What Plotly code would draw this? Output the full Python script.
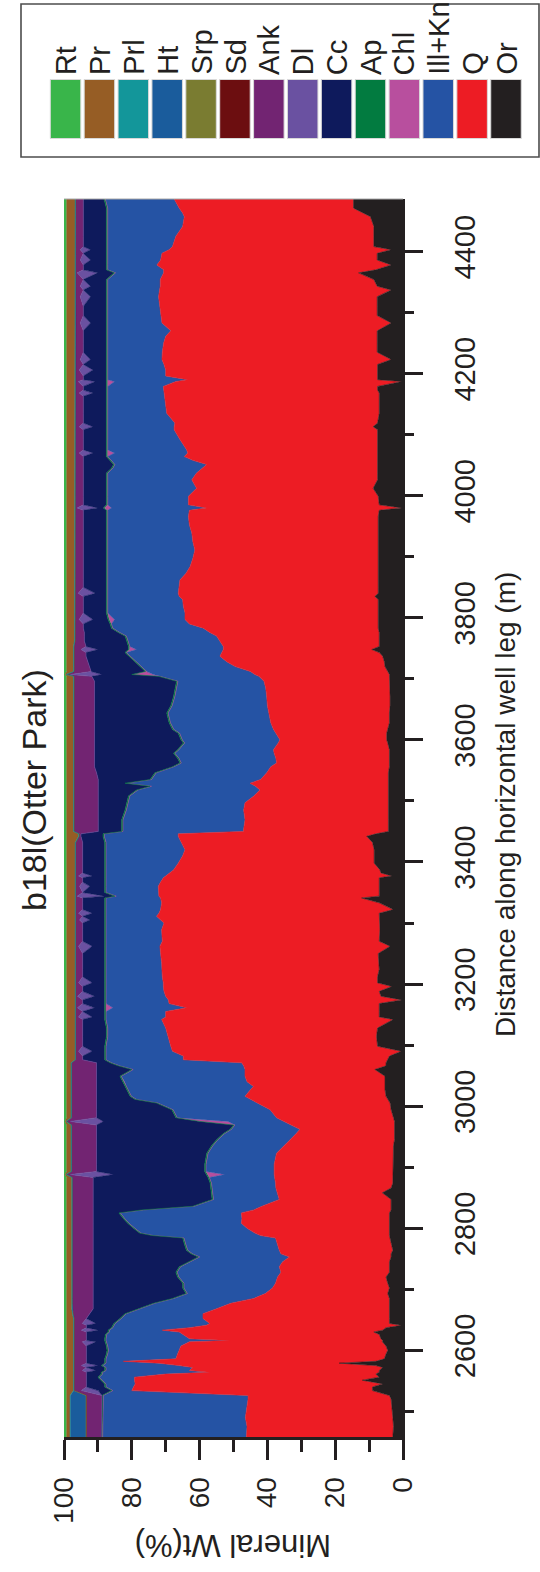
import plotly.graph_objects as go

# ---------------- data ----------------
distance = [
    2458, 2475, 2490, 2505, 2520, 2526,
    2534, 2540, 2545, 2551, 2556, 2561, 2564, 2567, 2572, 2575, 2579, 2582, 2586, 2594,
    2600, 2607, 2614, 2616, 2619, 2626, 2630, 2633, 2637, 2641, 2644, 2652, 2660,
    2668, 2677, 2685, 2693, 2702, 2710, 2720, 2728, 2737, 2745, 2753, 2758, 2764, 2774,
    2784, 2788, 2792, 2800, 2808, 2816, 2825, 2830, 2836, 2847, 2858, 2866, 2874, 2883, 2888,
    2893, 2905, 2923, 2935, 2945, 2955, 2962, 2969, 2975, 2981, 2994, 3005, 3011, 3016,
    3027, 3032, 3040, 3049, 3060, 3066, 3071,
    3076, 3082, 3090, 3098, 3114, 3128, 3142, 3146, 3155, 3161, 3168, 3174, 3180, 3188,
    3196, 3202, 3212, 3224, 3235, 3250, 3262, 3270, 3289, 3300, 3305, 3311, 3316, 3322,
    3333, 3341, 3344, 3350, 3360, 3367, 3374, 3377, 3382, 3387, 3398, 3410, 3420, 3432,
    3442, 3446,
    3450, 3469, 3485, 3497, 3508, 3518, 3524, 3529, 3535, 3546,
    3556, 3562, 3570, 3578, 3584, 3595, 3600, 3611, 3617, 3628, 3644, 3656, 3671, 3685,
    3696, 3704, 3707, 3712, 3720, 3728, 3737, 3743, 3748, 3753, 3762, 3770, 3776,
    3783, 3790, 3797, 3808, 3819, 3830, 3835, 3840, 3850, 3862, 3873, 3884, 3897, 3911,
    3925, 3939, 3952, 3966, 3976, 3980, 3985, 3999, 4012, 4026, 4037, 4045, 4051, 4058,
    4064, 4070, 4075, 4092, 4108, 4113, 4119, 4135, 4150, 4163, 4168, 4173, 4179, 4187,
    4190, 4196, 4206, 4215, 4223, 4235, 4250, 4261, 4270, 4283, 4295, 4310, 4326, 4337,
    4343, 4354, 4365, 4370, 4378, 4386, 4397, 4403, 4408, 4425, 4441, 4457, 4463, 4471, 4486,
]

Or_wt = [
    3, 2.8, 3, 3.2, 3.5, 4,
    9, 9, 6, 12, 7, 8, 7, 7, 6, 8, 18.8, 8, 5.5, 5, 4.5, 5, 6.1, 6, 6.5, 7, 8.6, 6, 5, 0.5, 4, 4, 4,
    4, 4.2, 4, 4.5, 4, 4.5, 5, 4, 4, 4, 3.5, 3.5, 3, 3.5, 4, 4, 4, 4, 4, 4, 4, 3.5, 3.5, 3.5, 6.1, 3.5, 3, 3, 3,
    3, 3, 3, 2.8, 2.5, 2.5, 2.5, 2.5, 2.5, 2.8, 3.5, 3.8, 4.5, 5, 5.3, 5.3, 5.3, 5.3, 8.3, 5, 5,
    4.5, 4, 0.5, 7.5, 7.8, 7.5, 2.9, 7, 7, 7, 7, 0.4, 6.5, 7, 3.3, 7.5, 7.5, 7, 7.2, 7.3,
    3.8, 7, 6.8, 6.8, 6.8, 6.8, 7, 2.9, 7, 12.2, 7, 7, 7, 7, 7, 3.3, 6.5, 6.8, 8.5, 8.5, 8.5, 9, 10.7, 8,
    4.3, 4.3, 4.3, 4.3, 4.3, 4.3, 4.3, 4.3, 4.3, 4.3,
    4, 4, 4, 4, 4, 4.5, 4.8, 4.8, 4.5, 4, 4, 3.8, 3.8, 3.8, 3.8, 3.8, 4, 4.5, 5.3, 5.5, 6, 7, 9.2, 7, 7, 7, 7,
    7.3, 7.3, 7.3, 7.3, 7.3, 7.3, 8.3, 7.3, 7.3, 7.3, 7.3, 7.3, 7.3, 7.3, 7.3, 7.3, 7.3, 7.3, 7, 0.4,
    7, 7.3, 8.8, 7.5, 7.5, 7.5, 7.5, 7.5, 7.5, 7.5, 7.5, 7.5, 7.5, 8.8, 7.5, 7, 7, 7, 7, 7.5,
    7.5, 0.4, 7.5, 7.5, 7.5, 7.5, 3.5, 7.6, 7.6, 7.6, 7.6, 3.5, 7.6, 7.6, 7.6, 3.5, 7.6, 8.6, 13.1, 8,
    3.5, 7.6, 7.6, 3.5, 8.6, 8.6, 8.6, 9.6, 11.6, 14.6, 14.6,
]

Q_wt = [
    43.2, 43.2, 43.5, 42.8, 42.2, 41.7,
    71, 70.5, 73, 67.2, 72.2, 62, 50, 56, 56, 58, 53.2, 74.5, 61.5, 61.5, 61.5, 60.5, 56.9, 45, 56.5, 58, 57.4, 65, 58, 57.5, 53, 55, 55,
    51, 46.6, 40, 36.1, 34.5, 33.1, 32, 32, 32.5, 31.5, 30, 32.5, 33.5, 33.5, 33.6, 38, 39.7, 42, 43.7, 43.5, 43.7, 40.5, 38.1, 33, 30.9, 34, 34.6, 35, 35,
    35, 35, 34.3, 32.2, 30.8, 29, 27.9, 30.5, 32.5, 34.5, 35.7, 38.9, 40.5, 41.6, 39.7, 38.8, 40.7, 41.3, 38.3, 42, 42.6,
    60.3, 60.8, 67.5, 61, 61.4, 62.5, 68.3, 63, 63, 56.8, 62, 68.8, 63.5, 63.5, 67.4, 63.2, 63.5, 64, 64, 64.2,
    67.9, 64, 64.4, 63.7, 64.7, 65.9, 65, 68.6, 64.2, 59.3, 65, 65, 65.2, 64.5, 63.7, 66.7, 62.5, 60.9, 57.8, 56.5, 55.8, 56.5, 55.6, 58.3,
    42.8, 42.3, 42.7, 42.3, 39.7, 37.9, 39.2, 40.8, 37.7, 35.9,
    35, 33.3, 33.5, 34, 34.2, 32.3, 31.5, 32.7, 33.7, 35, 35.7, 36.2, 36.4, 36.7, 37.2, 38.7, 39.7, 40.5, 44.2, 46.5, 48, 46.5, 43.8, 46, 47, 48, 50,
    51.6, 55.7, 57, 57, 57.5, 57.7, 57.7, 59, 58.7, 58.5, 56.7, 55.5, 54.7, 54.1, 54.7, 55, 55.7, 56, 56, 57.5,
    56.3, 56, 52.1, 54.8, 53.4, 51.5, 50.4, 54.5, 57, 56, 56.3, 58.3, 60, 58.7, 59.8, 62.7, 63, 63.2, 63.5, 63.1,
    63.2, 66.6, 56, 62.5, 62.5, 63, 67.6, 63.4, 63, 62.4, 60.9, 67.6, 63.8, 64.2, 64.5, 68.3, 64, 63, 57.5, 62.6,
    69.1, 63.9, 63.5, 65.5, 59.4, 58.4, 56.4, 54.9, 53.4, 51.4, 52.9,
]

IllKn_wt = [
    42.4, 42.6, 42.1, 42.6, 42.7, 42.7,
    5.6, 8.1, 8.6, 9.4, 10.4, 18.6, 31.6, 24.6, 25.6, 22.6, 15.6, 5.1, 20.6, 20.6, 20.9, 21.6, 24.6, 36.6, 24.6, 22.4, 20.6, 15.6, 22.6, 27.1, 27.9, 24.1, 22.6,
    22.6, 22.4, 23.6, 23, 26.1, 27, 29.1, 30.6, 29.1, 27.1, 26.5, 26.1, 27, 27.1, 27, 31.6, 33.6, 33.1, 33.1, 34.6, 35.7, 32.6, 20, 19.4, 19.1, 18.9, 18.9, 19.1, 14.6,
    20.1, 20.1, 20.2, 21.1, 21.3, 21.1, 20.2, 16.6, 16.6, 29.3, 28.6, 29.6, 33.6, 33.5, 36.1, 37.5, 36.1, 36.5, 33, 36.6, 38.4,
    22.8, 22.8, 19.6, 19.1, 17.9, 17.1, 16.4, 17.6, 17.6, 21.8, 18.6, 18.4, 17.6, 17.1, 16.9, 16.9, 16.6, 16.6, 16.4, 16.1,
    15.9, 16.6, 16.4, 17.1, 16.1, 14.9, 15.6, 16.1, 16.4, 16.1, 12.6, 15.6, 15.4, 16.1, 16.9, 17.6, 18.6, 19.9, 21.3, 22.6, 23.3, 22.1, 21.8, 21.8,
    35.5, 36, 34.6, 34.5, 36.6, 36, 30.7, 36.5, 32.2, 32.6,
    28.6, 28.1, 28.6, 29.3, 27.9, 27.6, 28.8, 28.4, 29.4, 29.6, 29.6, 28.1, 27.1, 26.3, 25.4, 29.2, 29.9, 30.6, 27.7, 26.6, 26.6, 28.1, 25.6, 27.6, 27.1, 26.6, 26.6,
    26.7, 23, 20.8, 22.8, 22.3, 22.1, 21.1, 20.8, 21.1, 21.3, 23.1, 24.3, 25.1, 25.7, 25.1, 24.8, 24.1, 23.8, 24.1, 28.1,
    23.8, 23.8, 26.2, 24.8, 26.2, 26.6, 27.1, 24.1, 22.6, 21.6, 23.3, 21.3, 19.6, 19.6, 19.8, 17.4, 17.1, 16.9, 16.6, 16.5,
    16.4, 18.1, 23.6, 17.1, 17.1, 16.6, 16, 16.1, 16.5, 17.1, 18.6, 16, 15.7, 15.3, 15, 15.3, 15.5, 15.5, 14.2, 16.5,
    14.5, 15.6, 16, 18.1, 19.1, 20.1, 22.1, 22.6, 22.1, 21.1, 20.3,
]

Chl_wt = [
    0, 0, 0, 0, 0, 0,
    0, 0, 0, 0, 0, 0, 0, 0, 0, 0, 0, 0, 0, 0, 0, 0, 0, 0, 0, 0, 0, 0, 0, 0, 0, 0, 0,
    0, 0, 0, 0, 0, 0, 0, 0, 0, 0, 0, 0, 0, 0, 0, 0, 0, 0, 0, 0, 0, 0, 0, 0, 0, 0, 0, 0, 5,
    0, 0, 0, 0, 0, 0, 0, 0, 8, 0, 0, 0, 0, 0, 0, 0, 0, 0, 0, 0, 0,
    0, 0, 0, 0, 0, 0, 0, 0, 0, 2, 0, 0, 0, 0, 0, 0, 0, 0, 0, 0,
    0, 0, 0, 0, 0, 0, 0, 0, 0, 0, 0, 0, 0, 0, 0, 0, 0, 0, 0, 0, 0, 0, 0, 0,
    0, 0, 0, 0, 0, 0, 0, 0, 0, 0,
    0, 0, 0, 0, 0, 0, 0, 0, 0, 0, 0, 0, 0, 0, 0, 0, 6, 0, 0, 0, 0, 0, 2, 0, 0, 0, 0,
    0, 0, 1.5, 0, 0, 0, 0, 0, 0, 0, 0, 0, 0, 0, 0, 0, 0, 0, 0, 2,
    0, 0, 0, 0, 0, 0, 0, 0, 0, 2, 0, 0, 0, 0, 0, 0, 0, 0, 0, 0,
    0, 2, 0, 0, 0, 0, 0, 0, 0, 0, 0, 0, 0, 0, 0, 0, 0, 0, 0, 0,
    0, 0, 0, 0, 0, 0, 0, 0, 0, 0, 0,
]

Ap_wt = [
    0.4, 0.4, 0.4, 0.4, 0.4, 0.4,
    0.4, 0.4, 0.4, 0.4, 0.4, 0.4, 0.4, 0.4, 0.4, 0.4, 0.4, 0.4, 0.4, 0.4, 0.4, 0.4, 0.4, 0.4, 0.4, 0.4, 0.4, 0.4, 0.4, 0.4, 0.4, 0.4, 0.4,
    0.4, 0.4, 0.4, 0.4, 0.4, 0.4, 0.4, 0.4, 0.4, 0.4, 0.4, 0.4, 0.4, 0.4, 0.4, 0.4, 0.4, 0.4, 0.4, 0.4, 0.4, 0.4, 0.4, 0.4, 0.4, 0.4, 0.4, 0.4, 0.4,
    0.4, 0.4, 0.4, 0.4, 0.4, 0.4, 0.4, 0.4, 0.4, 0.4, 0.4, 0.4, 0.4, 0.4, 0.4, 0.4, 0.4, 0.4, 0.4, 0.4, 0.4,
    0.4, 0.4, 0.4, 0.4, 0.4, 0.4, 0.4, 0.4, 0.4, 0.4, 0.4, 0.4, 0.4, 0.4, 0.4, 0.4, 0.4, 0.4, 0.4, 0.4,
    0.4, 0.4, 0.4, 0.4, 0.4, 0.4, 0.4, 0.4, 0.4, 0.4, 0.4, 0.4, 0.4, 0.4, 0.4, 0.4, 0.4, 0.4, 0.4, 0.4, 0.4, 0.4, 0.4, 0.4,
    0.4, 0.4, 0.4, 0.4, 0.4, 0.4, 0.4, 0.4, 0.4, 0.4,
    0.4, 0.4, 0.4, 0.4, 0.4, 0.4, 0.4, 0.4, 0.4, 0.4, 0.4, 0.4, 0.4, 0.4, 0.4, 0.4, 0.4, 0.4, 0.4, 0.4, 0.4, 0.4, 0.4, 0.4, 0.4, 0.4, 0.4,
    0.4, 0.4, 0.4, 0.4, 0.4, 0.4, 0.4, 0.4, 0.4, 0.4, 0.4, 0.4, 0.4, 0.4, 0.4, 0.4, 0.4, 0.4, 0.4, 0.4,
    0.4, 0.4, 0.4, 0.4, 0.4, 0.4, 0.4, 0.4, 0.4, 0.4, 0.4, 0.4, 0.4, 0.4, 0.4, 0.4, 0.4, 0.4, 0.4, 0.4,
    0.4, 0.4, 0.4, 0.4, 0.4, 0.4, 0.4, 0.4, 0.4, 0.4, 0.4, 0.4, 0.4, 0.4, 0.4, 0.4, 0.4, 0.4, 0.4, 0.4,
    0.4, 0.4, 0.4, 0.4, 0.4, 0.4, 0.4, 0.4, 0.4, 0.4, 0.4,
]

Cc_wt = [
    0, 0, 0, 0, 0, 0,
    3.9, 5.4, 5.4, 4.4, 3.4, 4.4, 4.4, 2.6, 5.4, 0.9, 5.4, 5.4, 5.4, 5.9, 6.1, 5.9, 2.6, 5.4, 5.4, 5.6, 6.4, 2.9, 7.4, 7.9, 5.3, 9.9, 10.5,
    13.4, 17.8, 23.4, 27.4, 26.4, 26.4, 24.9, 24.4, 25.4, 28.4, 31, 28.9, 27.5, 26.9, 26.4, 17.4, 13.7, 11.9, 10.2, 8.9, 7.6, 14.4, 29.4, 35.1, 34.9, 34.6, 34.5, 33.9, 27.4,
    31.9, 31.9, 32.5, 33.9, 35.4, 37.4, 39.4, 40.4, 28.4, 23.4, 22.2, 17.7, 11.4, 9.9, 8.9, 8.4, 7.9, 6.9, 10.4, 6.4, 4.0,
    6.5, 6.5, 3.7, 6.5, 7, 7, 6.5, 3.7, 6.5, 3, 6.5, 6.5, 3, 6.5, 6.5, 3.7, 6.5, 6.5, 6.5, 6.5,
    3.7, 6.5, 6.5, 6.5, 4.4, 6.5, 3.7, 6.5, 6.5, 6.5, 3.1, 6.5, 4.4, 6.5, 6.5, 3.7, 6.5, 6.5, 6.5, 6.5, 6.5, 6.5, 6.5, 6.5,
    6.9, 6.9, 7.9, 8.4, 8.9, 11.3, 15.3, 7.9, 15.3, 17.2,
    23, 25.2, 24.5, 23.3, 24.5, 26.2, 25.5, 24.7, 23, 22, 21.3, 22.5, 23.3, 23.8, 24.2, 19.7, 8.8, 16, 14.9, 14, 12.5, 11.5, 9, 12.5, 12.5, 12, 10,
    8.3, 7.9, 4.5, 6.8, 6.8, 6.8, 6.8, 3.3, 6.8, 6.8, 6.8, 6.8, 6.8, 6.8, 6.8, 6.8, 6.8, 6.8, 6.8, 1.7,
    6.8, 6.8, 6.8, 6.8, 6.8, 8.3, 8.9, 7.8, 6.8, 4, 6.8, 6.8, 6.8, 4, 6.8, 6.8, 6.8, 6.8, 4, 6.8,
    6.8, 3.3, 6.8, 6.8, 4, 6.8, 4.7, 6.8, 6.8, 6.8, 6.8, 4.7, 6.8, 6.8, 4.7, 6.8, 4.7, 6.8, 4.9, 6.8,
    6.8, 4.7, 6.8, 4.7, 6.8, 6.8, 6.8, 6.8, 6.8, 6.8, 6.1,
]

Dl_wt = [
    0, 0, 0, 0, 0, 0,
    5, 0, 0, 0, 0, 0, 0, 4, 0, 5, 0, 0, 0, 0, 0, 0, 4, 0, 0, 0, 0, 5, 0, 0, 4, 0, 0,
    0, 0, 0, 0, 0, 0, 0, 0, 0, 0, 0, 0, 0, 0, 0, 0, 0, 0, 0, 0, 0, 0, 0, 0, 0, 0, 0, 0, 12.7,
    0, 0, 0, 0, 0, 0, 0, 0, 9.7, 0, 0, 0, 0, 0, 0, 0, 0, 0, 0, 0, 0,
    0, 0, 4, 0, 0, 0, 0, 4, 0, 5, 0, 0, 5, 0, 0, 4, 0, 0, 0, 0,
    4, 0, 0, 0, 3, 0, 4, 0, 0, 0, 8, 0, 3, 0, 0, 4, 0, 0, 0, 0, 0, 0, 0, 0,
    0, 0, 0, 0, 0, 0, 0, 0, 0, 0,
    0, 0, 0, 0, 0, 0, 0, 0, 0, 0, 0, 0, 0, 0, 0, 0, 9.3, 0, 0, 0, 0, 0, 5, 0, 0, 0, 0,
    0, 0, 4, 0, 0, 0, 0, 5, 0, 0, 0, 0, 0, 0, 0, 0, 0, 0, 0, 6,
    0, 0, 0, 0, 0, 0, 0, 0, 0, 4, 0, 0, 0, 4, 0, 0, 0, 0, 4, 0,
    0, 5, 0, 0, 4, 0, 3, 0, 0, 0, 0, 3, 0, 0, 3, 0, 3, 0, 6, 0,
    0, 3, 0, 3, 0, 0, 0, 0, 0, 0, 0,
]

Ank_wt = [
    4.3, 4.3, 4.3, 4.3, 4.5, 4.5,
    2.0, 3.5, 3.5, 3.5, 3.5, 3.5, 3.5, 2.3, 3.5, 2.0, 3.5, 3.5, 3.5, 3.5, 3.5, 3.5, 2.3, 3.5, 3.5, 3.5, 3.5, 2.0, 3.5, 3.5, 2.3, 3.5, 4.7,
    6, 6, 6, 6, 6, 6, 6, 6, 6, 6, 6, 6, 6, 6, 6, 6, 6, 6, 6, 6, 6, 6, 6, 6, 6, 6, 6, 6, 1,
    7.2, 7.2, 7.2, 7.2, 7.2, 7.2, 7.2, 7.2, 1, 7.2, 7.2, 7.2, 7.2, 7.2, 7.2, 7.2, 7.2, 7.2, 7.2, 7.2, 7.2,
    1.9, 1.9, 0.7, 1.9, 1.9, 1.9, 1.9, 0.7, 1.9, 0.4, 1.9, 1.9, 0.4, 1.9, 1.9, 0.7, 1.9, 1.9, 1.9, 1.9,
    0.7, 1.9, 1.9, 1.9, 1.0, 1.9, 0.7, 1.9, 1.9, 1.9, 0.3, 1.9, 1.0, 1.9, 1.9, 0.7, 1.9, 1.9, 1.9, 1.9, 1.9, 1.9, 0.4, 0.4,
    7, 7, 7, 7, 7, 7, 7, 7, 7, 6.5,
    5.9, 5.9, 5.9, 5.9, 5.9, 5.9, 5.9, 5.9, 5.9, 5.9, 5.9, 5.9, 5.9, 5.9, 5.9, 5.1, 1, 4.9, 4.4, 3.9, 3.4, 3.4, 1.9, 3.4, 2.6, 2.6, 2.6,
    2.1, 2.1, 0.9, 2.1, 2.1, 2.1, 2.1, 0.6, 2.1, 2.1, 2.1, 2.1, 2.1, 2.1, 2.1, 2.1, 2.1, 2.1, 2.1, 0.3,
    2.1, 2.1, 2.1, 2.1, 2.1, 2.1, 2.1, 2.1, 2.1, 0.9, 2.1, 2.1, 2.1, 0.9, 2.1, 2.1, 2.1, 2.1, 0.9, 2.1,
    2.1, 0.6, 2.1, 2.1, 0.9, 2.1, 1.2, 2.1, 2.1, 2.1, 2.1, 1.2, 2.1, 2.1, 1.2, 2.1, 1.2, 2.1, 0.3, 2.1,
    2.1, 1.2, 2.1, 1.2, 2.1, 2.1, 2.1, 2.1, 2.1, 2.1, 2.1,
]

Sd_wt = [
    0.1, 0.1, 0.1, 0.1, 0.1, 0.1,
    0.1, 0.1, 0.1, 0.1, 0.1, 0.1, 0.1, 0.1, 0.1, 0.1, 0.1, 0.1, 0.1, 0.1, 0.1, 0.1, 0.1, 0.1, 0.1, 0.1, 0.1, 0.1, 0.1, 0.1, 0.1, 0.1, 0.1,
    0.1, 0.1, 0.1, 0.1, 0.1, 0.1, 0.1, 0.1, 0.1, 0.1, 0.1, 0.1, 0.1, 0.1, 0.1, 0.1, 0.1, 0.1, 0.1, 0.1, 0.1, 0.1, 0.1, 0.1, 0.1, 0.1, 0.1, 0.1, 0.1,
    0.1, 0.1, 0.1, 0.1, 0.1, 0.1, 0.1, 0.1, 0.1, 0.1, 0.1, 0.1, 0.1, 0.1, 0.1, 0.1, 0.1, 0.1, 0.1, 0.1, 0.1,
    0.1, 0.1, 0.1, 0.1, 0.1, 0.1, 0.1, 0.1, 0.1, 0.1, 0.1, 0.1, 0.1, 0.1, 0.1, 0.1, 0.1, 0.1, 0.1, 0.1,
    0.1, 0.1, 0.1, 0.1, 0.1, 0.1, 0.1, 0.1, 0.1, 0.1, 0.1, 0.1, 0.1, 0.1, 0.1, 0.1, 0.1, 0.1, 0.1, 0.1, 0.1, 0.1, 0.1, 0.1,
    0.1, 0.1, 0.1, 0.1, 0.1, 0.1, 0.1, 0.1, 0.1, 0.1,
    0.1, 0.1, 0.1, 0.1, 0.1, 0.1, 0.1, 0.1, 0.1, 0.1, 0.1, 0.1, 0.1, 0.1, 0.1, 0.1, 0.1, 0.1, 0.1, 0.1, 0.1, 0.1, 0.1, 0.1, 0.1, 0.1, 0.1,
    0.1, 0.1, 0.1, 0.1, 0.1, 0.1, 0.1, 0.1, 0.1, 0.1, 0.1, 0.1, 0.1, 0.1, 0.1, 0.1, 0.1, 0.1, 0.1, 0.1,
    0.1, 0.1, 0.1, 0.1, 0.1, 0.1, 0.1, 0.1, 0.1, 0.1, 0.1, 0.1, 0.1, 0.1, 0.1, 0.1, 0.1, 0.1, 0.1, 0.1,
    0.1, 0.1, 0.1, 0.1, 0.1, 0.1, 0.1, 0.1, 0.1, 0.1, 0.1, 0.1, 0.1, 0.1, 0.1, 0.1, 0.1, 0.1, 0.1, 0.1,
    0.1, 0.1, 0.1, 0.1, 0.1, 0.1, 0.1, 0.1, 0.1, 0.1, 0.1,
]
Srp_wt = list(Sd_wt)
Prl_wt = list(Sd_wt)

Ht_wt = [
    4.6, 4.6, 4.6, 4.6, 4.6, 4.6,
    0, 0, 0, 0, 0, 0, 0, 0, 0, 0, 0, 0, 0, 0, 0, 0, 0, 0, 0, 0, 0, 0, 0, 0, 0, 0, 0,
    0, 0, 0, 0, 0, 0, 0, 0, 0, 0, 0, 0, 0, 0, 0, 0, 0, 0, 0, 0, 0, 0, 0, 0, 0, 0, 0, 0, 0,
    0, 0, 0, 0, 0, 0, 0, 0, 0, 0, 0, 0, 0, 0, 0, 0, 0, 0, 0, 0, 0,
    0, 0, 0, 0, 0, 0, 0, 0, 0, 0, 0, 0, 0, 0, 0, 0, 0, 0, 0, 0,
    0, 0, 0, 0, 0, 0, 0, 0, 0, 0, 0, 0, 0, 0, 0, 0, 0, 0, 0, 0, 0, 0, 0, 0,
    0, 0, 0, 0, 0, 0, 0, 0, 0, 0,
    0, 0, 0, 0, 0, 0, 0, 0, 0, 0, 0, 0, 0, 0, 0, 0, 0, 0, 0, 0, 0, 0, 0, 0, 0, 0, 0,
    0, 0, 0, 0, 0, 0, 0, 0, 0, 0, 0, 0, 0, 0, 0, 0, 0, 0, 0, 0,
    0, 0, 0, 0, 0, 0, 0, 0, 0, 0, 0, 0, 0, 0, 0, 0, 0, 0, 0, 0,
    0, 0, 0, 0, 0, 0, 0, 0, 0, 0, 0, 0, 0, 0, 0, 0, 0, 0, 0, 0,
    0, 0, 0, 0, 0, 0, 0, 0, 0, 0, 0,
]

Pr_wt = [
    1, 1, 1, 1, 1, 1,
    2, 2, 2, 2, 2, 2, 2, 2, 2, 2, 2, 2, 2, 2, 2, 2, 2, 2, 2, 2, 2, 2, 2, 2, 2, 2, 1.7,
    1.5, 1.5, 1.5, 1.5, 1.5, 1.5, 1.5, 1.5, 1.5, 1.5, 1.5, 1.5, 1.5, 1.5, 1.5, 1.5, 1.5, 1.5, 1.5, 1.5, 1.5, 1.5, 1.5, 1.5, 1.5, 1.5, 1.5, 1.5, 0.3,
    1.3, 1.3, 1.3, 1.3, 1.3, 1.3, 1.3, 1.3, 0.3, 1.3, 1.3, 1.3, 1.3, 1.3, 1.3, 1.3, 1.3, 1.3, 1.3, 1.3, 1.3,
    2.5, 2.5, 2.5, 2.5, 2.5, 2.5, 2.5, 2.5, 2.5, 2.5, 2.5, 2.5, 2.5, 2.5, 2.5, 2.5, 2.5, 2.5, 2.5, 2.5,
    2.5, 2.5, 2.5, 2.5, 2.5, 2.5, 2.5, 2.5, 2.5, 2.5, 2.5, 2.5, 2.5, 2.5, 2.5, 2.5, 2.5, 2.5, 2.5, 2.5, 2.5, 2.5, 3.5, 3.5,
    2, 2, 2, 2, 2, 2, 2, 2, 2, 2,
    2, 2, 2, 2, 2, 2, 2, 2, 2, 2, 2, 2, 2, 2, 2, 2, 0.3, 2, 2, 2, 2, 2, 2, 2, 2.3, 2.3, 2.3,
    2.5, 2.5, 2.5, 2.5, 2.5, 2.5, 2.5, 2.5, 2.5, 2.5, 2.5, 2.5, 2.5, 2.5, 2.5, 2.5, 2.5, 2.5, 2.5, 2.5,
    2.5, 2.5, 2.5, 2.5, 2.5, 2.5, 2.5, 2.5, 2.5, 2.5, 2.5, 2.5, 2.5, 2.5, 2.5, 2.5, 2.5, 2.5, 2.5, 2.5,
    2.5, 2.5, 2.5, 2.5, 2.5, 2.5, 2.5, 2.5, 2.5, 2.5, 2.5, 2.5, 2.5, 2.5, 2.5, 2.5, 2.5, 2.5, 2.5, 2.5,
    2.5, 2.5, 2.5, 2.5, 2.5, 2.5, 2.5, 2.5, 2.5, 2.5, 2.5,
]

Rt_wt = [
    0.8, 0.8, 0.8, 0.8, 0.8, 0.8,
    0.8, 0.8, 0.8, 0.8, 0.8, 0.8, 0.8, 0.8, 0.8, 0.8, 0.8, 0.8, 0.8, 0.8, 0.8, 0.8, 0.8, 0.8, 0.8, 0.8, 0.8, 0.8, 0.8, 0.8, 0.8, 0.8, 0.8,
    0.8, 0.8, 0.8, 0.8, 0.8, 0.8, 0.8, 0.8, 0.8, 0.8, 0.8, 0.8, 0.8, 0.8, 0.8, 0.8, 0.8, 0.8, 0.8, 0.8, 0.8, 0.8, 0.8, 0.8, 0.8, 0.8, 0.8, 0.8, 0.3,
    0.8, 0.8, 0.8, 0.8, 0.8, 0.8, 0.8, 0.8, 0.3, 0.8, 0.8, 0.8, 0.8, 0.8, 0.8, 0.8, 0.8, 0.8, 0.8, 0.8, 0.8,
    0.8, 0.8, 0.8, 0.8, 0.8, 0.8, 0.8, 0.8, 0.8, 0.8, 0.8, 0.8, 0.8, 0.8, 0.8, 0.8, 0.8, 0.8, 0.8, 0.8,
    0.8, 0.8, 0.8, 0.8, 0.8, 0.8, 0.8, 0.8, 0.8, 0.8, 0.8, 0.8, 0.8, 0.8, 0.8, 0.8, 0.8, 0.8, 0.8, 0.8, 0.8, 0.8, 0.8, 0.8,
    0.8, 0.8, 0.8, 0.8, 0.8, 0.8, 0.8, 0.8, 0.8, 0.8,
    0.8, 0.8, 0.8, 0.8, 0.8, 0.8, 0.8, 0.8, 0.8, 0.8, 0.8, 0.8, 0.8, 0.8, 0.8, 0.8, 0.3, 0.8, 0.8, 0.8, 0.8, 0.8, 0.8, 0.8, 0.8, 0.8, 0.8,
    0.8, 0.8, 0.8, 0.8, 0.8, 0.8, 0.8, 0.8, 0.8, 0.8, 0.8, 0.8, 0.8, 0.8, 0.8, 0.8, 0.8, 0.8, 0.8, 0.8,
    0.8, 0.8, 0.8, 0.8, 0.8, 0.8, 0.8, 0.8, 0.8, 0.8, 0.8, 0.8, 0.8, 0.8, 0.8, 0.8, 0.8, 0.8, 0.8, 0.8,
    0.8, 0.8, 0.8, 0.8, 0.8, 0.8, 0.8, 0.8, 0.8, 0.8, 0.8, 0.8, 0.8, 0.8, 0.8, 0.8, 0.8, 0.8, 0.8, 0.8,
    0.8, 0.8, 0.8, 0.8, 0.8, 0.8, 0.8, 0.8, 0.8, 0.8, 0.8,
]

# stacking order from 0 % upward, and legend order
minerals = ["Or", "Q", "Ill+Kn", "Chl", "Ap", "Cc", "Dl", "Ank", "Sd", "Srp", "Ht", "Prl", "Pr", "Rt"]
series = [Or_wt, Q_wt, IllKn_wt, Chl_wt, Ap_wt, Cc_wt, Dl_wt, Ank_wt, Sd_wt, Srp_wt, Ht_wt, Prl_wt, Pr_wt, Rt_wt]
legend_order = ["Rt", "Pr", "Prl", "Ht", "Srp", "Sd", "Ank", "Dl", "Cc", "Ap", "Chl", "Ill+Kn", "Q", "Or"]
colors = {
    "Rt": "#39B54A", "Pr": "#965D25", "Prl": "#13969A", "Ht": "#1A5C9C", "Srp": "#7A7C31",
    "Sd": "#6C0E10", "Ank": "#722472", "Dl": "#6A51A1", "Cc": "#0E1A5C", "Ap": "#027B40",
    "Chl": "#B84F9E", "Ill+Kn": "#2553A4", "Q": "#ED1C24", "Or": "#231F20",
}
x_ticks = [0, 20, 40, 60, 80, 100]
x_minor = [10, 30, 50, 70, 90]
y_ticks = [2600, 2800, 3000, 3200, 3400, 3600, 3800, 4000, 4200, 4400]
y_minor = [2500, 2700, 2900, 3100, 3300, 3500, 3700, 3900, 4100, 4300]

for s in series:
    assert len(s) == len(distance), (len(s), len(distance))

# ---------------- layout geometry (pixels) ----------------
W, H = 540, 1572
PL, PR, PT, PB = 64, 403, 199, 1437
FONT = "Liberation Sans, Arial, Helvetica, sans-serif"
INK = "#231F20"


def xp(px):
    return (px - PL) / (PR - PL)


def yp(py):
    return (PB - py) / (PB - PT)


fig = go.Figure()
for name, vals in zip(minerals, series):
    fig.add_trace(go.Scatter(
        x=vals, y=distance, name=name, mode="lines",
        stackgroup="one", orientation="h",
        line=dict(width=0.6, color=colors[name]),
        fillcolor=colors[name], hoverinfo="skip", showlegend=False,
    ))

shapes = []
annotations = []

# thin grey top edge of the plot
shapes.append(dict(type="line", xref="paper", yref="paper", x0=0, x1=1, y0=1, y1=1,
                   line=dict(color="#A8A8A8", width=1)))

# legend box
shapes.append(dict(type="rect", xref="paper", yref="paper",
                   x0=xp(21), x1=xp(539), y0=yp(4), y1=yp(157),
                   line=dict(color="#4D4D4D", width=1.6), fillcolor="rgba(0,0,0,0)"))
for i, name in enumerate(legend_order):
    left = 50.3 + 33.88 * i
    shapes.append(dict(type="rect", xref="paper", yref="paper",
                       x0=xp(left), x1=xp(left + 30.5), y0=yp(79.5), y1=yp(138.5),
                       line=dict(color="#D9D9D9", width=1), fillcolor=colors[name]))
    annotations.append(dict(text=name, xref="paper", yref="paper",
                            x=xp(left + 15.3), y=yp(77), xanchor="center", yanchor="bottom",
                            textangle=-90, showarrow=False,
                            font=dict(family=FONT, size=29, color=INK)))

# title and axis titles (whole chart is turned a quarter turn)
annotations.append(dict(text="b18l(Otter Park)", xref="paper", yref="paper",
                        x=xp(34), y=yp(790), xanchor="center", yanchor="middle",
                        textangle=-90, showarrow=False,
                        font=dict(family=FONT, size=34, color=INK)))
annotations.append(dict(text="Distance along horizontal well leg (m)", xref="paper", yref="paper",
                        x=xp(505), y=yp(805), xanchor="center", yanchor="middle",
                        textangle=-90, showarrow=False,
                        font=dict(family=FONT, size=28, color=INK)))
annotations.append(dict(text="Mineral Wt(%)", xref="paper", yref="paper",
                        x=xp(233), y=yp(1546), xanchor="center", yanchor="middle",
                        textangle=180, showarrow=False,
                        font=dict(family=FONT, size=31, color=INK)))

fig.update_layout(
    width=W, height=H,
    margin=dict(l=PL, r=W - PR, t=PT, b=H - PB, pad=0),
    paper_bgcolor="white", plot_bgcolor="white",
    showlegend=False,
    shapes=shapes, annotations=annotations,
    xaxis=dict(
        range=[100, 0], tickmode="array", tickvals=x_ticks, ticktext=[str(v) for v in x_ticks],
        ticks="outside", ticklen=20, tickwidth=3, tickcolor=INK, tickangle=-90,
        tickfont=dict(family=FONT, size=28, color=INK), ticklabelstandoff=6,
        showline=True, linewidth=3, linecolor=INK, showgrid=False, zeroline=False,
        minor=dict(tickmode="array", tickvals=x_minor, ticks="outside", ticklen=12,
                   tickwidth=3, tickcolor=INK, showgrid=False),
        fixedrange=True,
    ),
    yaxis=dict(
        range=[2458, 4486], side="right", tickmode="array", tickvals=y_ticks,
        ticktext=[str(v) for v in y_ticks],
        ticks="outside", ticklen=18, tickwidth=3, tickcolor=INK, tickangle=-90,
        tickfont=dict(family=FONT, size=29, color=INK), ticklabelstandoff=17,
        showline=True, linewidth=2, linecolor=INK, showgrid=False, zeroline=False,
        minor=dict(tickmode="array", tickvals=y_minor, ticks="outside", ticklen=9,
                   tickwidth=3, tickcolor=INK, showgrid=False),
        fixedrange=True,
    ),
)

fig.write_html("out.html")
